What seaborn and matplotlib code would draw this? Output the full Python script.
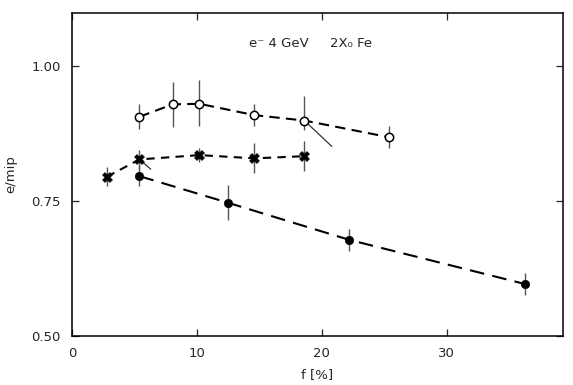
import numpy as np
import pandas as pd
import matplotlib
matplotlib.use("Agg")
import matplotlib.pyplot as plt
import seaborn as sns

# ---- data ----
f_open = [5.4, 8.05, 10.2, 14.6, 18.6, 25.4]
y_open = [0.906, 0.929, 0.930, 0.909, 0.899, 0.868]
e_open_lo = [0.023, 0.042, 0.042, 0.020, 0.017, 0.020]
e_open_hi = [0.023, 0.042, 0.045, 0.020, 0.045, 0.020]

f_cross = [2.8, 5.4, 10.2, 14.6, 18.6]
y_cross = [0.795, 0.827, 0.835, 0.829, 0.833]
e_cross = [0.018, 0.017, 0.013, 0.028, 0.028]

f_fill = [5.4, 12.45, 22.2, 36.3]
y_fill = [0.796, 0.747, 0.678, 0.596]
e_fill = [0.019, 0.032, 0.020, 0.020]

# short slanted strokes in the original figure
slash1_f = [18.6, 20.8]
slash1_y = [0.899, 0.851]
slash2_f = [5.4, 6.3]
slash2_y = [0.827, 0.809]

x_ticks = [0, 10, 20, 30]
y_ticks = [0.50, 0.75, 1.00]
y_tick_labels = ["0.50", "0.75", "1.00"]
title_text = "e\u207b 4 GeV     2X\u2080 Fe"

sns.set_style("ticks")
plt.rcParams["font.family"] = ["DejaVu Sans"]

fig = plt.figure(figsize=(5.73, 3.85), dpi=100)
ax = fig.add_axes([0.1257, 0.1273, 0.8568, 0.8387])

df_open = pd.DataFrame({"f": f_open, "y": y_open})
df_cross = pd.DataFrame({"f": f_cross, "y": y_cross})
df_fill = pd.DataFrame({"f": f_fill, "y": y_fill})

# error bars
ax.errorbar(f_open, y_open, yerr=[e_open_lo, e_open_hi], fmt="none",
            ecolor="#555555", elinewidth=1.0, capsize=0, zorder=2)
ax.errorbar(f_cross, y_cross, yerr=e_cross, fmt="none",
            ecolor="#555555", elinewidth=1.0, capsize=0, zorder=2)
ax.errorbar(f_fill, y_fill, yerr=e_fill, fmt="none",
            ecolor="#555555", elinewidth=1.0, capsize=0, zorder=2)

# dashed connecting lines
sns.lineplot(data=df_open, x="f", y="y", ax=ax, color="black",
             linewidth=1.5, sort=False, zorder=3)
ax.lines[-1].set_dashes([5, 3])
sns.lineplot(data=df_cross, x="f", y="y", ax=ax, color="black",
             linewidth=1.5, sort=False, zorder=3)
ax.lines[-1].set_dashes([4, 3])
sns.lineplot(data=df_fill, x="f", y="y", ax=ax, color="black",
             linewidth=1.5, sort=False, zorder=3)
ax.lines[-1].set_dashes([7, 4])

# slanted strokes
ax.plot(slash1_f, slash1_y, color="#333333", linewidth=0.9, zorder=3)
ax.plot(slash2_f, slash2_y, color="#333333", linewidth=0.9, zorder=3)

# markers
sns.scatterplot(data=df_open, x="f", y="y", ax=ax, marker="o", s=36,
                facecolor="white", edgecolor="black", linewidth=1.1, zorder=5)
sns.scatterplot(data=df_cross, x="f", y="y", ax=ax, marker="X", s=50,
                color="black", edgecolor="black", linewidth=0.5, zorder=5)
sns.scatterplot(data=df_fill, x="f", y="y", ax=ax, marker="o", s=36,
                color="black", edgecolor="black", linewidth=0.5, zorder=5)

ax.set_xlim(0, 39.3)
ax.set_ylim(0.50, 1.098)
ax.set_xticks(x_ticks)
ax.set_xticklabels([str(t) for t in x_ticks], fontsize=9.5)
ax.set_yticks(y_ticks)
ax.set_yticklabels(y_tick_labels, fontsize=9.5)
ax.tick_params(direction="in", top=True, right=True, length=5, width=0.9,
               pad=8)
for sp in ax.spines.values():
    sp.set_linewidth(1.1)
    sp.set_color("black")

ax.set_xlabel("f [%]", fontsize=9.5, labelpad=6)
ax.set_ylabel("e/mip", fontsize=9.5, labelpad=10)
ax.text(0.485, 0.907, title_text, transform=ax.transAxes, ha="center",
        va="center", fontsize=9.5)

fig.savefig("out.png", dpi=100)
